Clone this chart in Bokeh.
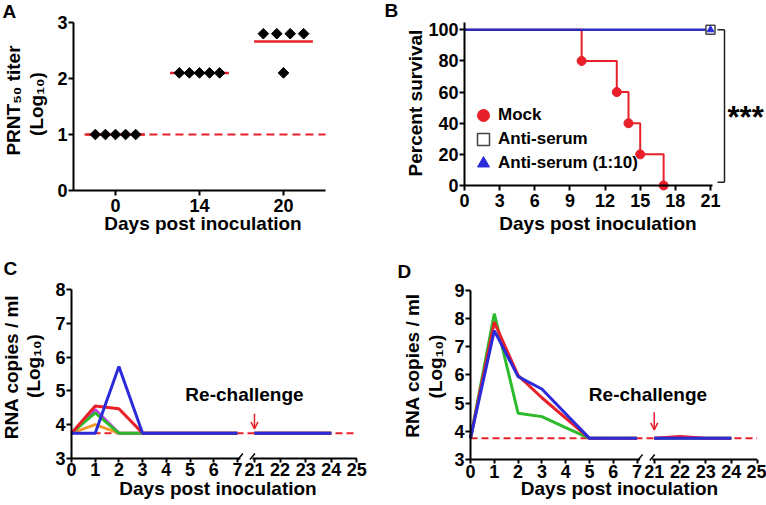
import numpy as np
from bokeh.plotting import figure
from bokeh.layouts import column, row
from bokeh.models import Range1d, FixedTicker, Legend, LegendItem, Arrow, OpenHead
from bokeh.embed import file_html
from bokeh.resources import INLINE
from bokeh.core.properties import value

FONT = "Liberation Sans"
RED = "#e8202a"
BLUE = "#2b2bd9"
GREEN = "#2dbb2d"
MAGENTA = "#c23fe0"
ORANGE = "#f5992c"

# ---------------- Panel A data ----------------
a_day_labels = ["0", "14", "20"]
a_titer_day0 = [1.0, 1.0, 1.0, 1.0, 1.0]
a_titer_day14 = [2.1, 2.1, 2.1, 2.1, 2.1]
a_titer_day20 = [2.8, 2.8, 2.1, 2.8, 2.8]
a_detection_limit = 1.0
a_y_ticks = [0, 1, 2, 3]

# ---------------- Panel B data ----------------
b_mock_days = [0, 10, 13, 14, 15, 17]
b_mock_survival = [100, 80, 60, 40, 20, 0]
b_antiserum_days = [0, 21]
b_antiserum_survival = [100, 100]
b_antiserum10_days = [0, 21]
b_antiserum10_survival = [100, 100]
b_x_ticks = [0, 3, 6, 9, 12, 15, 18, 21]
b_y_ticks = [0, 20, 40, 60, 80, 100]
b_significance = "***"
b_legend_labels = ["Mock", "Anti-serum", "Anti-serum (1:10)"]

# ---------------- Panels C / D shared ----------------
days_early = [0, 1, 2, 3, 4, 5, 6, 7]
days_late = [21, 22, 23, 24]
x_ticks_early = [0, 1, 2, 3, 4, 5, 6, 7]
x_ticks_late = [21, 22, 23, 24, 25]
rna_detection_limit = 3.75

# ---------------- Panel C data ----------------
c_orange_early = [3.75, 4.0, 3.75, 3.75, 3.75, 3.75, 3.75, 3.75]
c_magenta_early = [3.75, 4.45, 3.75, 3.75, 3.75, 3.75, 3.75, 3.75]
c_green_early = [3.75, 4.35, 3.75, 3.75, 3.75, 3.75, 3.75, 3.75]
c_red_early = [3.75, 4.55, 4.47, 3.75, 3.75, 3.75, 3.75, 3.75]
c_blue_early = [3.75, 3.75, 5.72, 3.75, 3.75, 3.75, 3.75, 3.75]
c_orange_late = [3.75, 3.75, 3.75, 3.75]
c_magenta_late = [3.75, 3.75, 3.75, 3.75]
c_green_late = [3.75, 3.75, 3.75, 3.75]
c_red_late = [3.75, 3.75, 3.75, 3.75]
c_blue_late = [3.75, 3.75, 3.75, 3.75]
c_y_ticks = [3, 4, 5, 6, 7, 8]

# ---------------- Panel D data ----------------
d_green_early = [3.75, 8.17, 4.64, 4.52, 4.13, 3.75, 3.75, 3.75]
d_red_early = [3.75, 7.87, 5.98, 5.19, 4.47, 3.75, 3.75, 3.75]
d_blue_early = [3.75, 7.57, 5.94, 5.50, 4.62, 3.75, 3.75, 3.75]
d_green_late = [3.75, 3.75, 3.75, 3.75]
d_red_late = [3.75, 3.82, 3.75, 3.75]
d_blue_late = [3.75, 3.75, 3.75, 3.75]
d_y_ticks = [3, 4, 5, 6, 7, 8, 9]


# ---------------- helpers ----------------
class PanelMap:
    """Pixel placement of one panel: where data 0 sits on the page and pixels per unit."""

    def __init__(self, left, top, width, height, x_page0, ppx, y_page0, ppy, y_ref=0.0):
        self.left, self.top, self.width, self.height = left, top, width, height
        self.x_page0, self.ppx, self.y_page0, self.ppy, self.y_ref = x_page0, ppx, y_page0, ppy, y_ref

    def x(self, px):
        return (px - self.x_page0) / self.ppx

    def y(self, py):
        return self.y_ref + (self.y_page0 - py) / self.ppy

    def dx(self, pixels):
        return pixels / self.ppx

    def dy(self, pixels):
        return pixels / self.ppy


def style_axis(ax, tick_out=5, tick_in=0, standoff=1):
    ax.axis_line_width = 2
    ax.axis_line_color = "black"
    ax.major_tick_line_width = 2
    ax.major_tick_line_color = "black"
    ax.major_tick_out = tick_out
    ax.major_tick_in = tick_in
    ax.minor_tick_line_color = None
    ax.major_label_text_font = FONT
    ax.major_label_text_font_style = "bold"
    ax.major_label_text_font_size = "18px"
    ax.major_label_text_color = "black"
    ax.major_label_standoff = standoff


def make_fig(m, x_axis_at, y_axis_at, x_bounds, y_bounds, x_standoff=3):
    p = figure(width=m.width, height=m.height,
               x_range=Range1d(m.x(m.left), m.x(m.left + m.width)),
               y_range=Range1d(m.y(m.top + m.height), m.y(m.top)),
               output_backend="svg", toolbar_location=None, min_border=0, title=None)
    p.outline_line_color = None
    p.xgrid.visible = False
    p.ygrid.visible = False
    p.background_fill_color = "white"
    p.border_fill_color = "white"
    style_axis(p.xaxis[0], standoff=x_standoff)
    style_axis(p.yaxis[0])
    p.xaxis.fixed_location = x_axis_at
    p.yaxis.fixed_location = y_axis_at
    p.xaxis.bounds = x_bounds
    p.yaxis.bounds = y_bounds
    return p


BASELINE_FIX = 0.37  # measured shift of rendered alphabetic baseline, in em


def add_text(p, m, px, py, text, size=19, angle=0.0, align="center"):
    # (px, py): wanted page position of the text baseline anchor
    if angle == 0.0:
        py = py - BASELINE_FIX * size
    else:
        px = px - BASELINE_FIX * size
    p.text(x=[m.x(px)], y=[m.y(py)], text=[text], angle=angle,
           text_font=value(FONT), text_font_style="bold", text_font_size=f"{size}px",
           text_align=align, text_baseline="alphabetic", text_color="black")


def spread_positions(vals, center, span):
    vals = np.asarray(vals, dtype=float)
    xs = np.full(len(vals), float(center))
    for v in np.unique(vals):
        idx = np.flatnonzero(vals == v)
        if len(idx) > 1:
            xs[idx] = center + np.linspace(-span / 2, span / 2, len(idx))
    return xs


ROT = np.pi / 2

# ================= Panel A =================
mA = PanelMap(0, 0, 380, 250, 115, 84, 190, 56)
a_xlim = (-0.5, len(a_day_labels) - 0.5)
pa = make_fig(mA, min(a_y_ticks), a_xlim[0], a_xlim, (min(a_y_ticks), max(a_y_ticks)))
pa.xaxis.ticker = FixedTicker(ticks=list(range(len(a_day_labels))))
pa.xaxis.major_label_overrides = {i: s for i, s in enumerate(a_day_labels)}
pa.yaxis.ticker = FixedTicker(ticks=a_y_ticks)

MEAN_HALF = 0.35
a_groups = [a_titer_day0, a_titer_day14, a_titer_day20]
a_centers = list(range(len(a_groups)))
a_means = [float(np.mean(g)) for g in a_groups]
pa.line([-MEAN_HALF - 0.02, a_xlim[1]], [a_detection_limit] * 2,
        line_color=RED, line_width=2, line_dash="8 5")
pa.segment(x0=[c - MEAN_HALF for c in a_centers], x1=[c + MEAN_HALF for c in a_centers],
           y0=a_means, y1=a_means, line_color=RED, line_width=2.5)
a_xs = np.concatenate([spread_positions(g, c, 0.48) for g, c in zip(a_groups, a_centers)])
a_ys = np.concatenate([np.asarray(g, dtype=float) for g in a_groups])
pa.scatter(a_xs, a_ys, marker="square", angle=np.pi / 4, size=7.5, color="black")

add_text(pa, mA, 2, 18, "A", align="left")
add_text(pa, mA, 202.5, 230, "Days post inoculation")
add_text(pa, mA, 20.5, 100, "PRNT₅₀ titer", angle=ROT)
add_text(pa, mA, 43, 103.5, "(Log₁₀)", angle=ROT)

# ================= Panel B =================
mB = PanelMap(380, 0, 386, 250, 464, 11.714, 185, 1.557)
b_last = max(b_x_ticks)
pb = make_fig(mB, min(b_y_ticks), min(b_x_ticks), (min(b_x_ticks), b_last + 0.15),
              (min(b_y_ticks), 105))
pb.xaxis.ticker = FixedTicker(ticks=b_x_ticks)
pb.yaxis.ticker = FixedTicker(ticks=b_y_ticks)

pb.step(b_mock_days, b_mock_survival, mode="after", line_color=RED, line_width=2)
pb.line(b_antiserum_days, b_antiserum_survival, line_color="black", line_width=2)
pb.line(b_antiserum10_days, b_antiserum10_survival, line_color=BLUE, line_width=2)
r_mock = pb.scatter(b_mock_days[1:], b_mock_survival[1:], marker="circle", size=9,
                    fill_color=RED, line_color=RED)
r_sq = pb.scatter(b_antiserum_days[-1:], b_antiserum_survival[-1:], marker="square", size=9,
                  fill_color="white", line_color="#444444", line_width=1.5)
r_tri = pb.scatter(b_antiserum10_days[-1:], b_antiserum10_survival[-1:], marker="triangle",
                   size=7, fill_color=BLUE, line_color=BLUE)

# one legend box per entry so the row pitch (24 px) can be smaller than the glyph box
legend_rows_bottom = [120, 96, 72]  # px above the figure bottom
for lab, rend, yb in zip(b_legend_labels, [r_mock, r_sq, r_tri], legend_rows_bottom):
    lg = Legend(items=[LegendItem(label=value(lab), renderers=[rend])],
                location=(88, yb), border_line_color=None, background_fill_alpha=0,
                padding=0, margin=0, spacing=0, glyph_width=30, glyph_height=30,
                label_height=30, label_standoff=0, label_text_font=FONT,
                label_text_font_style="bold", label_text_font_size="17px",
                label_text_color="black", label_text_baseline="middle")
    pb.add_layout(lg)

# significance bracket
x_br = mB.x(724)
y_hi, y_lo = max(b_y_ticks), mB.y(181.7)
pb.segment(x0=[x_br - mB.dx(7), x_br, x_br - mB.dx(7)], x1=[x_br, x_br, x_br],
           y0=[y_hi, y_hi, y_lo], y1=[y_hi, y_lo, y_lo], line_color="#222222", line_width=1.5)
add_text(pb, mB, 727, 128, b_significance, size=31, align="left")

add_text(pb, mB, 384, 17, "B", align="left")
add_text(pb, mB, 597.5, 230, "Days post inoculation")
add_text(pb, mB, 421.6, 102.5, "Percent survival", angle=ROT)

# ================= Panels C / D (broken x axis) =================
BREAK_GAP = 0.72
LATE_SCALE = 1.08
early_end = max(x_ticks_early)
late_start = min(x_ticks_late)


def break_x(d):
    return d if d <= early_end else early_end + BREAK_GAP + (d - late_start) * LATE_SCALE


def broken_panel(m, y_ticks, series, lod, x_standoff, text_xy, arrow_py):
    x_end = break_x(max(x_ticks_late))
    y0, y_top = min(y_ticks), max(y_ticks)
    p = make_fig(m, y0, 0, (0, x_end), (y0, y_top), x_standoff=x_standoff)
    all_days = x_ticks_early + x_ticks_late
    pos = [round(break_x(d), 4) for d in all_days]
    p.xaxis.ticker = FixedTicker(ticks=pos)
    p.xaxis.major_label_overrides = {ps: str(d) for ps, d in zip(pos, all_days)}
    p.xaxis.axis_line_color = None
    p.xaxis.major_tick_out = 4
    p.yaxis.ticker = FixedTicker(ticks=y_ticks)

    # broken axis line with break marks
    seg1_end = early_end + m.dx(3)
    seg2_start = break_x(late_start) - m.dx(2)
    p.segment(x0=[0, seg2_start], x1=[seg1_end, x_end], y0=[y0, y0], y1=[y0, y0],
              line_color="black", line_width=2)
    sdx, sdy = m.dx(2.5), m.dy(5)
    p.segment(x0=[seg1_end - sdx, seg2_start - sdx], x1=[seg1_end + sdx, seg2_start + sdx],
              y0=[y0 - m.dy(1), y0 - m.dy(1)], y1=[y0 + sdy, y0 + sdy],
              line_color="black", line_width=1.5)

    # detection limit
    p.line([0, x_end], [lod, lod], line_color=RED, line_width=2, line_dash="7 4")

    xe = [break_x(d) for d in days_early]
    xl = [break_x(d) for d in days_late]
    for color, early, late in series:
        p.line(xe, early, line_color=color, line_width=3)
        p.line(xl, late, line_color=color, line_width=3)

    x21 = break_x(late_start)
    add_text(p, m, text_xy[0], text_xy[1], "Re-challenge")
    p.add_layout(Arrow(end=OpenHead(size=7, line_color=RED, line_width=1.5),
                       x_start=x21, y_start=m.y(arrow_py[0]), x_end=x21, y_end=m.y(arrow_py[1]),
                       line_color=RED, line_width=1.5))
    return p


mC = PanelMap(0, 250, 380, 255, 71, 23.7, 458, 33.8, y_ref=3)
pc = broken_panel(mC, c_y_ticks,
                  [(ORANGE, c_orange_early, c_orange_late),
                   (MAGENTA, c_magenta_early, c_magenta_late),
                   (GREEN, c_green_early, c_green_late),
                   (RED, c_red_early, c_red_late),
                   (BLUE, c_blue_early, c_blue_late)],
                  rna_detection_limit, 0, (244, 401), (413.3, 428.3))
add_text(pc, mC, 3, 275, "C", align="left")
add_text(pc, mC, 217.5, 495, "Days post inoculation")
add_text(pc, mC, 17.6, 366.5, "RNA copies / ml", angle=ROT)
add_text(pc, mC, 40, 365.5, "(Log₁₀)", angle=ROT)

mD = PanelMap(380, 250, 386, 255, 470, 23.8, 459, 28.2, y_ref=3)
pd_ = broken_panel(mD, d_y_ticks,
                   [(GREEN, d_green_early, d_green_late),
                    (RED, d_red_early, d_red_late),
                    (BLUE, d_blue_early, d_blue_late)],
                   rna_detection_limit, 1, (647.5, 401), (411.7, 429.3))
add_text(pd_, mD, 397, 278, "D", align="left")
add_text(pd_, mD, 619, 495, "Days post inoculation")
add_text(pd_, mD, 418.6, 365, "RNA copies / ml", angle=ROT)
add_text(pd_, mD, 442, 366, "(Log₁₀)", angle=ROT)

layout = column(row(pa, pb), row(pc, pd_))
open("out.html", "w").write(file_html(layout, INLINE))
